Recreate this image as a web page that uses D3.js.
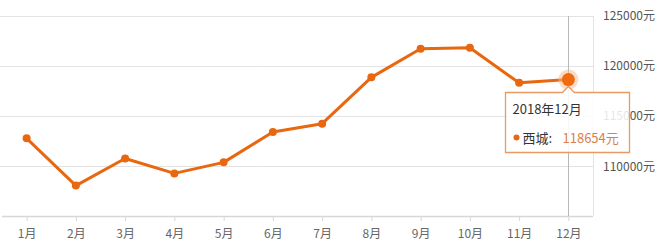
<!DOCTYPE html>
<html>
<head>
<meta charset="utf-8">
<script src="https://cdn.jsdelivr.net/npm/d3@7"></script>
<style>
  body { margin: 0; background: #fff; }
  svg { display: block; font-family: "Noto Sans CJK SC", "Noto Sans", sans-serif; }
</style>
</head>
<body>
<div id="chart"></div>
<script>
// monthly average price (元), 西城
const months = ["1月", "2月", "3月", "4月", "5月", "6月", "7月", "8月", "9月", "10月", "11月", "12月"];
const prices = [112800, 108080, 110790, 109300, 110400, 113430, 114260, 118880, 121730, 121830, 118330, 118654];
const yTicks = [110000, 115000, 120000, 125000];
const district = "西城";
const tipTitle = "2018年12月";
const active = 11;

const width = 659, height = 245;
const plotLeft = 2, plotRight = 593, plotTop = 16, plotBottom = 216;

const svg = d3.select("#chart").append("svg")
  .attr("width", width)
  .attr("height", height);

const x = d3.scalePoint()
  .domain(months)
  .range([plotLeft, plotRight])
  .padding(0.5);

const y = d3.scaleLinear()
  .domain([105050, 125000])
  .range([plotBottom, plotTop]);

// grid lines
svg.append("g")
  .selectAll("line")
  .data(yTicks)
  .enter()
  .append("line")
  .attr("x1", plotLeft - 2)
  .attr("x2", plotRight)
  .attr("y1", d => Math.round(y(d)) + 0.5)
  .attr("y2", d => Math.round(y(d)) + 0.5)
  .style("stroke", "#e3e3e3");

// right border of plot
svg.append("line")
  .attr("x1", plotRight + 0.5).attr("x2", plotRight + 0.5)
  .attr("y1", plotTop).attr("y2", plotBottom)
  .style("stroke", "#e3e3e3");

// y labels
svg.append("g")
  .selectAll("text")
  .data(yTicks)
  .enter()
  .append("text")
  .attr("x", 655)
  .attr("y", d => y(d))
  .attr("dy", "0.35em")
  .attr("text-anchor", "end")
  .style("font-size", "12px")
  .style("fill", "#555")
  .text(d => d + "元");

// x axis
const xAxis = svg.append("g")
  .attr("transform", "translate(0," + plotBottom + ")")
  .call(d3.axisBottom(x).tickSize(5).tickPadding(8));
xAxis.select(".domain")
  .attr("d", "M" + plotLeft + ",0.5H" + plotRight)
  .style("stroke", "#d6d6d6")
  .style("stroke-width", 1.5);
xAxis.selectAll(".tick line").style("stroke", "#d6d6d6");
xAxis.selectAll(".tick text")
  .style("font-size", "12px")
  .style("fill", "#666")
  .style("font-family", "\"Noto Sans CJK SC\", sans-serif");

// crosshair
svg.append("line")
  .attr("x1", Math.round(x(months[active])) + 0.5)
  .attr("x2", Math.round(x(months[active])) + 0.5)
  .attr("y1", plotTop)
  .attr("y2", plotBottom)
  .style("stroke", "#b8b8b8");

// line
const line = d3.line()
  .x((d, i) => x(months[i]))
  .y(d => y(d));

svg.append("path")
  .datum(prices)
  .attr("d", line)
  .style("fill", "none")
  .style("stroke", "#e8670f")
  .style("stroke-width", 3)
  .style("stroke-linejoin", "round");

svg.append("g")
  .selectAll("circle")
  .data(prices)
  .enter()
  .append("circle")
  .attr("cx", (d, i) => x(months[i]))
  .attr("cy", d => y(d))
  .attr("r", (d, i) => i === active ? 0 : 4)
  .style("fill", "#e8670f");

// highlighted point
const ax = x(months[active]), ay = y(prices[active]);
svg.append("circle")
  .attr("cx", ax).attr("cy", ay).attr("r", 10)
  .style("fill", "#f6b98a").style("opacity", 0.5);
svg.append("circle")
  .attr("cx", ax).attr("cy", ay).attr("r", 6.5)
  .style("fill", "#f06a10");

// tooltip
const tx = 505.5, ty = 92.5, tw = 124, th = 60;
const tip = svg.append("g");
tip.append("path")
  .attr("d", "M" + tx + "," + ty +
    "H" + (ax - 6) + "L" + ax + "," + (ty - 6) + "L" + (ax + 6) + "," + ty +
    "H" + (tx + tw) + "V" + (ty + th) + "H" + tx + "Z")
  .style("fill", "rgba(255,255,255,0.85)")
  .style("stroke", "#e89a62")
  .style("stroke-width", 1.3);
tip.append("text")
  .attr("x", tx + 7).attr("y", ty + 21)
  .style("font-size", "13px")
  .style("fill", "#333")
  .text(tipTitle);
tip.append("circle")
  .attr("cx", tx + 11).attr("cy", ty + 45).attr("r", 3)
  .style("fill", "#e8670f");
tip.append("text")
  .attr("x", tx + 17).attr("y", ty + 50)
  .style("font-size", "13px")
  .style("fill", "#333")
  .text(district + ":");
tip.append("text")
  .attr("x", tx + 57).attr("y", ty + 50)
  .style("font-size", "13px")
  .style("fill", "#d9804a")
  .text(prices[active] + "元");
</script>
</body>
</html>
